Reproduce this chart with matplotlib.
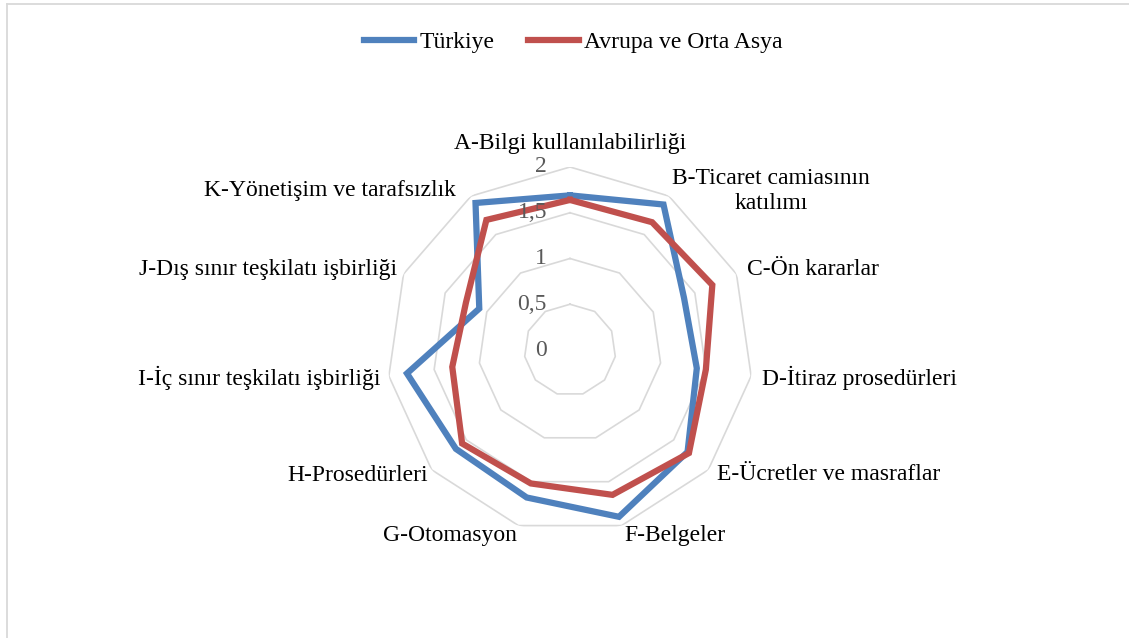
import numpy as np
import matplotlib.pyplot as plt

# categories (clockwise from top)
categories = ["A-Bilgi kullanılabilirliği", "B-Ticaret camiasının\nkatılımı",
              "C-Ön kararlar", "D-İtiraz prosedürleri", "E-Ücretler ve masraflar",
              "F-Belgeler", "G-Otomasyon", "H-Prosedürleri",
              "I-İç sınır teşkilatı işbirliği", "J-Dış sınır teşkilatı işbirliği",
              "K-Yönetişim ve tarafsızlık"]

turkiye = [1.69, 1.89, 1.37, 1.40, 1.70, 1.90, 1.68, 1.65, 1.80, 1.09, 1.91]
avrupa = [1.64, 1.66, 1.71, 1.50, 1.72, 1.65, 1.52, 1.56, 1.30, 1.25, 1.69]

r_ticks = [0, 0.5, 1, 1.5, 2]
r_labels = ["0", "0,5", "1", "1,5", "2"]

# label offsets in pixels from outer vertex, and alignment
lab_off = [(0, 24), (3, 5), (11, 4), (11, -2), (9, -5), (3, -10),
           (-2, -10), (-4, -6), (-8, -2), (-6, 4), (-15, 6)]
lab_ha = ["center", "left", "left", "left", "left", "left",
          "right", "right", "right", "right", "right"]

plt.rcParams['font.family'] = ['Liberation Serif', 'DejaVu Serif']
FS = 17

W, H = 1129, 638
fig = plt.figure(figsize=(W / 100, H / 100), dpi=100)

# chart border
fig.add_artist(plt.Line2D([6.5 / W, 1.0], [1 - 3.5 / H, 1 - 3.5 / H], color="#D9D9D9", lw=1.3))
fig.add_artist(plt.Line2D([6.5 / W, 6.5 / W], [0, 1 - 3.5 / H], color="#D9D9D9", lw=1.3))

cx, cy, R = 570, 350, 183
ax = fig.add_axes([(cx - R) / W, (H - cy - R) / H, 2 * R / W, 2 * R / H], projection="polar")
ax.set_theta_offset(np.pi / 2)
ax.set_theta_direction(-1)
ax.set_ylim(0, 2)
ax.grid(False)
ax.spines["polar"].set_visible(False)
ax.set_xticks([])
ax.set_yticks([])
ax.patch.set_visible(False)

n = len(categories)
theta = np.linspace(0, 2 * np.pi, n, endpoint=False)
theta_c = np.append(theta, theta[0])

# polygon grid
for lv in r_ticks[1:]:
    ax.plot(theta_c, [lv] * (n + 1), color="#D9D9D9", lw=1.2, zorder=1)

ax.plot(theta_c, turkiye + turkiye[:1], color="#4F81BD", lw=4.5,
        solid_joinstyle="miter", label="Türkiye", zorder=3)
ax.plot(theta_c, avrupa + avrupa[:1], color="#C0504D", lw=4.5,
        solid_joinstyle="miter", label="Avrupa ve Orta Asya", zorder=4)

# radial labels
for v, s in zip(r_ticks, r_labels):
    ax.annotate(s, xy=(0, v), xytext=(-23, 0), textcoords="offset pixels",
                ha="right", va="center", fontsize=FS, color="#595959",
                annotation_clip=False, zorder=5)

# category labels
for t, name, off, ha in zip(theta, categories, lab_off, lab_ha):
    ax.annotate(name, xy=(t, 2), xytext=off, textcoords="offset pixels",
                ha=ha, va="center", fontsize=FS, color="black",
                multialignment="center", linespacing=1.2, annotation_clip=False)

fig.legend(loc="center", bbox_to_anchor=(573 / W, 1 - 42 / H), ncol=2, frameon=False,
           fontsize=FS, handlelength=2.15, handletextpad=0.2, columnspacing=1.45)

fig.savefig("out.png", dpi=100)
